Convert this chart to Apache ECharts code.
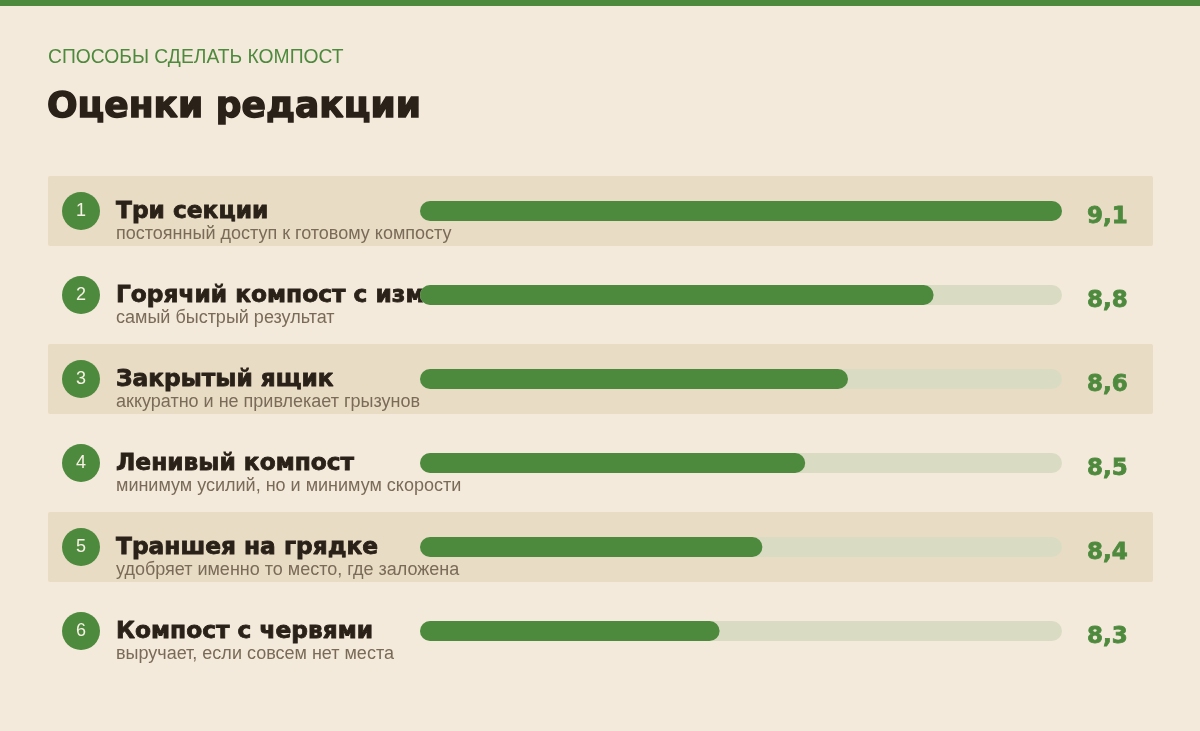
<!DOCTYPE html>
<html><head><meta charset="utf-8">
<script src="https://cdn.jsdelivr.net/npm/echarts@6/dist/echarts.min.js"></script>
<style>html,body{margin:0;padding:0;background:#f4eadb;}#c{width:1200px;height:731px;}</style>
</head><body><div id="c"></div>
<script>
const kicker = 'СПОСОБЫ СДЕЛАТЬ КОМПОСТ';
const heading = 'Оценки редакции';
const names = ['Три секции','Горячий компост с измельчением','Закрытый ящик','Ленивый компост','Траншея на грядке','Компост с червями'];
const notes = ['постоянный доступ к готовому компосту','самый быстрый результат','аккуратно и не привлекает грызунов','минимум усилий, но и минимум скорости','удобряет именно то место, где заложена','выручает, если совсем нет места'];
const ranks = ['1','2','3','4','5','6'];
const scores = [9.1, 8.8, 8.6, 8.5, 8.4, 8.3];
const scaleMin = 7.6, scaleMax = 9.1;

const GREEN = '#4e8a3e', DARK = '#2a2118', MUTED = '#7a6a58';
const bandData = names.map((n, i) => i % 2 === 0 ? 1 : '-');
const fmt = v => String(v).replace('.', ',');

const chart = echarts.init(document.getElementById('c'), null, {renderer: 'canvas'});
chart.setOption({
  animation: false,
  backgroundColor: '#f4eadb',
  title: [
    {text: kicker, left: 48, top: 48, padding: 0, textStyle: {fontFamily: 'Liberation Sans', fontWeight: 'normal', fontSize: 19.3, color: GREEN}},
    {text: heading, left: 47, top: 90, padding: 0, textStyle: {fontFamily: 'DejaVu Sans', fontWeight: 'bold', fontSize: 36, color: DARK, textBorderColor: DARK, textBorderWidth: 1.4}}
  ],
  graphic: [{type: 'rect', left: 0, top: 0, shape: {width: 1200, height: 6}, style: {fill: GREEN}}],
  grid: [
    {left: 420, right: 138, top: 169, bottom: 58, outerBoundsMode: 'none', containLabel: false},
    {left: 48, right: 47, top: 169, bottom: 58, outerBoundsMode: 'none', containLabel: false}
  ],
  xAxis: [
    {type: 'value', gridIndex: 0, min: scaleMin, max: scaleMax, startValue: scaleMin, show: false},
    {type: 'value', gridIndex: 1, min: 0, max: 1, show: false}
  ],
  yAxis: [
    {type: 'category', gridIndex: 0, data: names, inverse: true, position: 'left', offset: 0, z: 3,
     axisLine: {show: false}, axisTick: {show: false}, splitLine: {show: false},
     axisLabel: {interval: 0, hideOverlap: false, margin: 304, align: 'left', padding: [20, 0, 0, 0],
       formatter: (v, i) => '{n|' + v + '}\n{s|' + notes[i] + '}',
       rich: {
         n: {fontFamily: 'DejaVu Sans', fontWeight: 'bold', fontSize: 23.3, color: DARK, lineHeight: 26, textBorderColor: DARK, textBorderWidth: 0.8},
         s: {fontFamily: 'Liberation Sans', fontSize: 18, color: MUTED, lineHeight: 18}
       }}},
    {type: 'category', gridIndex: 0, data: ranks, inverse: true, position: 'left', offset: 0, z: 3,
     axisLine: {show: false}, axisTick: {show: false}, splitLine: {show: false},
     axisLabel: {interval: 0, hideOverlap: false, margin: 320,
       formatter: v => '{c|' + v + '}',
       rich: {c: {width: 38, height: 38, lineHeight: 38, borderRadius: 19, backgroundColor: GREEN, align: 'center',
         color: '#f6f1e4', fontFamily: 'Liberation Sans', fontSize: 18}}}},
    {type: 'category', gridIndex: 0, data: names, inverse: true, position: 'right', offset: 0, z: 3,
     axisLine: {show: false}, axisTick: {show: false}, splitLine: {show: false},
     axisLabel: {interval: 0, hideOverlap: false, margin: 25, align: 'left', padding: [12, 0, 0, 0],
       formatter: (v, i) => '{v|' + fmt(scores[i]) + '}',
       rich: {v: {fontFamily: 'DejaVu Sans', fontWeight: 'bold', fontSize: 23, color: GREEN, lineHeight: 28,
         textBorderColor: GREEN, textBorderWidth: 0.8}}}},
    {type: 'category', gridIndex: 1, data: names, inverse: true, show: false}
  ],
  series: [
    {type: 'bar', xAxisIndex: 1, yAxisIndex: 3, data: bandData, barWidth: 70, z: 1, silent: true,
     itemStyle: {color: '#e8dcc4', borderRadius: 2}},
    {type: 'bar', xAxisIndex: 0, yAxisIndex: 0, data: scores, barWidth: 20, z: 4, silent: true,
     itemStyle: {color: GREEN, borderRadius: 10},
     showBackground: true, backgroundStyle: {color: '#d9dcc3', borderRadius: 10}}
  ]
});
</script></body></html>
